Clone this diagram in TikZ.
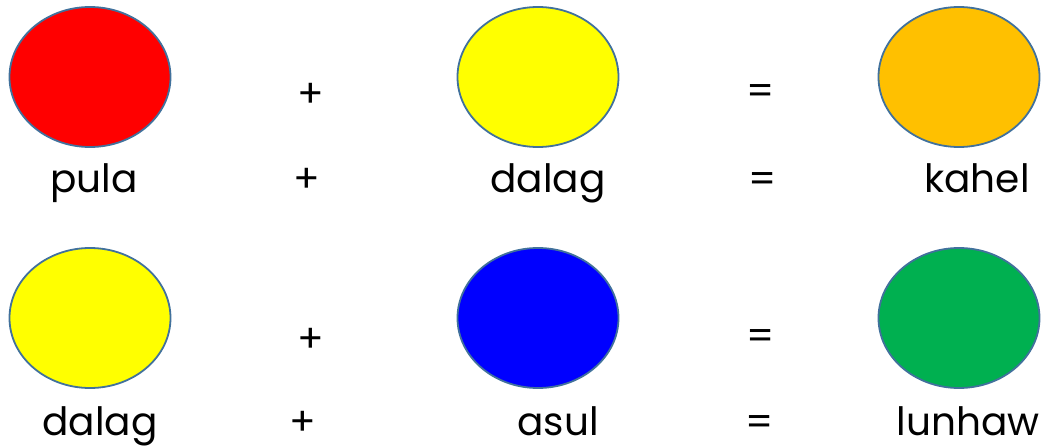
\documentclass[tikz,border=0pt]{standalone}
\usepackage{fontspec}
\setmainfont{Poppins}
\usetikzlibrary{shapes.geometric,positioning}
\definecolor{rim}{HTML}{41719C}
\definecolor{pulacol}{HTML}{FF0000}
\definecolor{dalagcol}{HTML}{FFFF00}
\definecolor{kahelcol}{HTML}{FFC000}
\definecolor{asulcol}{HTML}{0000FF}
\definecolor{lunhawcol}{HTML}{00B050}

\begin{document}
\begin{tikzpicture}[x=1pt,y=-1pt,blob/.style={ellipse,draw=rim,line width=1.8pt,minimum width=161pt,minimum height=140pt,inner sep=0pt},word/.style={anchor=base,font=\fontsize{39}{40}\selectfont,inner sep=0pt},sym/.style={font=\fontsize{39}{40}\selectfont,inner sep=0pt}]
\useasboundingbox (0,0) rectangle (1045,447);
% first row
\node[blob,fill=pulacol] (red) at (90,77) {};
\node[blob,fill=dalagcol] (yel1) at (538,77) {};
\node[blob,fill=kahelcol] (orange) at (959,77) {};
\node[sym] (plus1) at (311,95) {+};
\node[sym] (eq1) at (761,95) {=};
\node[word] (pula) at (94,192) {pula};
\node[word] (plus1b) at (307,192) {+};
\node[word] (dalag1) at (548,192) {dalag};
\node[word] (eq1b) at (763,192) {=};
\node[word] (kahel) at (977,192) {kahel};
% second row
\node[blob,fill=dalagcol] (yel2) at (90,318) {};
\node[blob,fill=asulcol] (blue) at (538,318) {};
\node[blob,fill=lunhawcol] (green) at (959,318) {};
\node[sym] (plus2) at (311,340) {+};
\node[sym] (eq2) at (761,340) {=};
\node[word] (dalag2) at (100,435) {dalag};
\node[word] (plus2b) at (303,435) {+};
\node[word] (asul) at (558,435) {asul};
\node[word] (eq2b) at (760,435) {=};
\node[word] (lunhaw) at (968,435) {lunhaw};
\end{tikzpicture}
\end{document}
